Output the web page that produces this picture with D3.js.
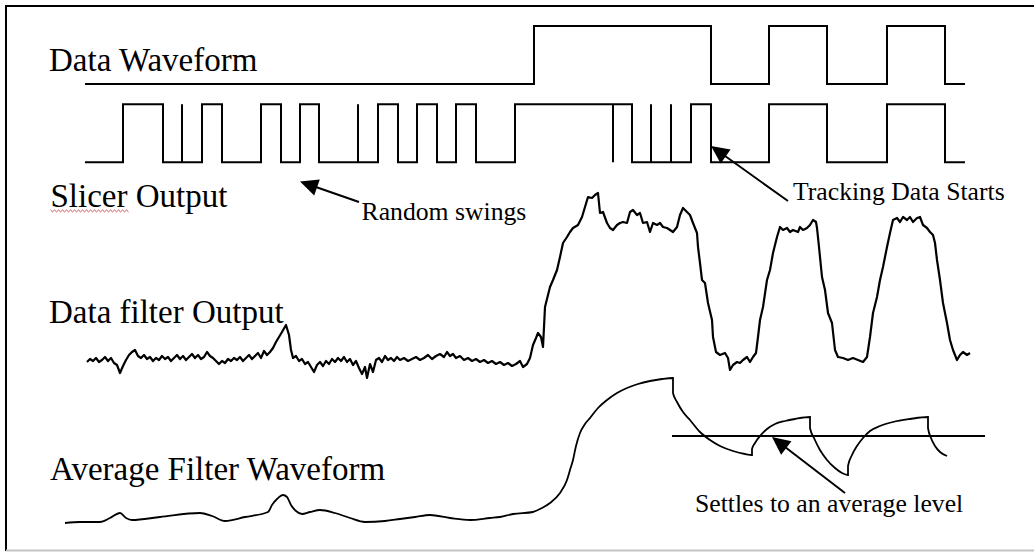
<!DOCTYPE html>
<html><head><meta charset="utf-8">
<script src="https://cdn.jsdelivr.net/npm/d3@7"></script>
<style>html,body{margin:0;padding:0;background:#fff;} svg{display:block}</style>
</head><body>
<svg id="chart" width="1034" height="552"></svg>
<script>
// ---------------- DATA (time in µs, levels in arbitrary units) ----------------
const trackLabels = ["Data Waveform", "Slicer Output", "Data filter Output", "Average Filter Waveform"];
const annotationTexts = ["Random swings", "Tracking Data Starts", "Settles to an average level"];

// Data waveform: edge times and the level after each edge
const dataTimes  = [2, 46.9, 64.6, 70.4, 76.2, 82.2, 88, 90];
const dataLevels = [0, 1,    0,    1,    0,    1,    0,  0];

// Slicer output: edge times and level after each edge (zero-width entries are glitches)
const slicerTimes  = [2, 5.8, 9.8, 11.7, 11.7, 13.7, 15.7, 19.6, 21.6, 23.5, 25.4, 29.3, 29.3, 31.3, 33.3, 35.2, 37.2, 39.1, 41.1, 45.0, 54.8, 54.8, 56.7, 58.6, 58.6, 60.6, 60.6, 62.6, 64.6, 70.4, 76.2, 82.2, 88, 90];
const slicerLevels = [0, 1,   0,   1,    0,    1,    0,    1,    0,    1,    0,    1,    0,    1,    0,    1,    0,    1,    0,    1,    0,    1,    0,    1,    0,    1,    0,    1,    0,    1,    0,    1,    0,  0];

// Data filter output samples [time, mV]
const filterSamples = [
 [2.2,8],[2.5,11],[2.8,9],[3.1,12],[3.4,8],[3.7,10],[4.0,13],[4.3,9],[4.6,12],[4.9,7],[5.2,5],[5.5,-3],[5.8,4],[6.1,10],[6.4,15],[6.7,18],[7.0,20],[7.3,14],[7.6,12],[7.9,15],[8.2,11],[8.5,13],[8.8,9],[9.1,12],[9.4,10],[9.7,14],[10.0,11],[10.3,13],[10.6,9],[10.9,12],[11.2,15],[11.5,11],[11.8,14],[12.1,10],[12.4,13],[12.7,16],[13.0,12],[13.3,15],[13.6,11],[13.9,13],[14.2,18],[14.5,14],[14.8,12],[15.1,9],[15.4,6],[15.7,9],[16.0,7],[16.3,11],[16.6,9],[16.9,12],[17.2,10],[17.5,13],[17.8,9],[18.1,12],[18.4,15],[18.7,11],[19.0,14],[19.3,17],[19.6,12],[19.9,19],[20.2,15],[20.5,18],[20.8,22],[21.1,28],[21.4,33],[21.7,38],[22.1,45],[22.4,35],[22.6,20],[22.8,12],[23.1,14],[23.4,9],[23.7,11],[24.0,6],[24.3,8],[24.6,3],[24.9,-2],[25.2,5],[25.5,8],[25.8,4],[26.1,9],[26.4,6],[26.7,11],[27.0,8],[27.3,12],[27.6,9],[27.9,13],[28.2,8],[28.5,11],[28.8,5],[29.1,9],[29.4,2],[29.7,-4],[30.0,3],[30.2,-8],[30.5,6],[30.8,-2],[31.1,10],[31.4,12],[31.7,8],[32.0,14],[32.3,10],[32.6,12],[32.9,9],[33.2,13],[33.5,10],[33.9,12],[34.3,9],[34.7,11],[35.1,13],[35.5,10],[35.9,12],[36.3,15],[36.7,11],[37.1,14],[37.5,16],[37.9,13],[38.2,18],[38.5,14],[38.8,16],[39.1,12],[39.5,14],[39.9,10],[40.3,12],[40.7,9],[41.1,11],[41.5,8],[41.9,10],[42.3,7],[42.7,9],[43.1,6],[43.5,8],[43.9,5],[44.3,7],[44.7,4],[45.1,6],[45.5,9],[45.8,3],[46.2,6],[46.5,12],[46.8,25],[47.1,32],[47.3,37],[47.6,33],[47.8,23],[48.0,63],[48.5,83],[48.8,90],[49.2,100],[49.5,113],[49.8,127],[50.2,133],[50.5,138],[50.8,142],[51.3,145],[51.7,153],[52.0,163],[52.3,173],[52.7,172],[53.0,175],[53.3,177],[53.5,157],[53.8,158],[54.2,147],[54.5,142],[54.8,140],[55.2,145],[55.5,147],[55.8,148],[56.2,147],[56.5,158],[56.8,160],[57.2,155],[57.5,157],[57.8,147],[58.2,148],[58.5,138],[58.8,147],[59.2,145],[59.5,147],[59.8,143],[60.2,142],[60.5,140],[60.8,138],[61.2,143],[61.5,155],[61.8,162],[62.2,158],[62.5,155],[62.8,147],[63.2,137],[63.3,123],[63.5,107],[63.7,90],[64.0,87],[64.3,67],[64.7,50],[64.8,33],[65.1,18],[65.5,15],[66.0,17],[66.3,12],[66.5,0],[66.8,5],[67.2,8],[67.5,7],[67.8,10],[68.2,13],[68.5,8],[68.8,13],[69.1,17],[69.3,33],[69.5,50],[69.8,63],[70.2,90],[70.5,100],[70.8,117],[71.2,133],[71.5,143],[71.8,140],[72.2,142],[72.5,138],[72.8,140],[73.3,138],[73.5,143],[73.8,140],[74.2,142],[74.5,145],[74.8,150],[75.1,148],[75.2,142],[75.4,123],[75.7,93],[76.0,80],[76.3,57],[76.7,47],[77.0,20],[77.3,13],[77.8,12],[78.3,10],[78.8,12],[79.3,10],[79.8,8],[80.2,13],[80.5,33],[80.8,57],[81.2,73],[81.5,90],[81.8,103],[82.2,123],[82.5,137],[82.8,150],[83.2,152],[83.5,148],[83.8,153],[84.2,150],[84.5,153],[84.8,148],[85.2,152],[85.5,153],[85.8,145],[86.2,142],[86.5,138],[86.8,135],[87.0,127],[87.2,110],[87.5,90],[87.8,67],[88.2,47],[88.5,30],[88.8,20],[89.2,10],[89.5,15],[89.8,18],[90.2,15],[90.5,17]
];

// Average filter waveform samples [time, mV]
const averageSamples = [
 [0,7],[1.5,8],[3.5,8],[4.5,12],[5.5,17],[6.1,12],[6.7,10],[9.5,13],[13.5,17],[14.7,14],[16,9],[18,13],[20.3,18],[20.7,25],[21.2,31],[21.8,35],[22.2,33],[22.6,25],[23.1,19],[23.7,16],[24.5,18],[25.5,20],[27,17],[28.5,12],[30,8],[32,9],[33.5,11],[35,13],[36.5,15],[38.5,12],[40.5,10],[42.5,12],[43.5,13],[44.8,16],[46.8,18],[47.7,22],[48.5,27],[49.5,37],[50.2,50],[50.5,60],[50.8,70],[51.1,84],[51.5,97],[52,106],[52.5,112],[53.3,122],[54.2,130],[55.2,137],[56.2,142],[57.3,146],[58.5,149],[59.7,151],[60.8,152],[60.8,137],[61.2,128],[61.8,118],[62.5,110],[63.5,98],[64.5,90],[65.5,84],[66.8,79],[68,76],[68.7,75],[68.7,81],[69,87],[69.5,94],[70.2,101],[71,106],[72,109],[73,111],[74.5,113],[74.5,102],[74.9,92],[75.5,80],[76.2,70],[77,62],[77.7,57],[78.3,55],[78.3,64],[78.7,75],[79.2,84],[79.8,92],[80.5,99],[81.5,104],[82.8,108],[84.5,111],[86.3,113],[86.3,102],[86.6,92],[87,84],[87.5,78],[88.2,74]
];
const averageLevel = 94;            // settled average (mV)
const averageLineSpan = [60.7, 92]; // time span of the reference line

// ---------------- LAYOUT ----------------
const W = 1034, H = 552;
const svg = d3.select("#chart");
const FONT = "'Liberation Serif','Times New Roman',Times,serif";

const x = d3.scaleLinear().domain([0, 94]).range([65, 1005]);
const yData   = d3.scaleLinear().domain([0, 1]).range([84, 26]);
const ySlicer = d3.scaleLinear().domain([0, 1]).range([162.3, 104.3]);
const yFilter = d3.scaleLinear().domain([0, 200]).range([370, 170]);
const yAvg    = d3.scaleLinear().domain([0, 200]).range([530, 330]);

// frame
svg.append("line").attr("x1",6).attr("y1",6).attr("x2",W).attr("y2",6).attr("stroke","#000").attr("stroke-width",2);
svg.append("line").attr("x1",6).attr("y1",5).attr("x2",6).attr("y2",551).attr("stroke","#000").attr("stroke-width",2);
svg.append("line").attr("x1",6).attr("y1",550.5).attr("x2",W).attr("y2",550.5).attr("stroke","#c4c4c4").attr("stroke-width",2);

const stepLine = (ys) => d3.line().x(d => x(d[0])).y(d => ys(d[1])).curve(d3.curveStepAfter);
const plainLine = (ys) => d3.line().x(d => x(d[0])).y(d => ys(d[1]));

svg.append("path").datum(d3.zip(dataTimes, dataLevels))
  .attr("d", stepLine(yData)).attr("fill","none").attr("stroke","#000").attr("stroke-width",2).attr("stroke-linejoin","miter");
svg.append("path").datum(d3.zip(slicerTimes, slicerLevels))
  .attr("d", stepLine(ySlicer)).attr("fill","none").attr("stroke","#000").attr("stroke-width",2).attr("stroke-linejoin","miter");
svg.append("path").datum(filterSamples)
  .attr("d", plainLine(yFilter)).attr("fill","none").attr("stroke","#000").attr("stroke-width",2.2).attr("stroke-linejoin","round");
svg.append("path").datum(averageSamples)
  .attr("d", plainLine(yAvg).curve(d3.curveMonotoneX)).attr("fill","none").attr("stroke","#000").attr("stroke-width",1.8);
svg.append("line")
  .attr("x1", x(averageLineSpan[0])).attr("x2", x(averageLineSpan[1]))
  .attr("y1", yAvg(averageLevel)).attr("y2", yAvg(averageLevel))
  .attr("stroke","#000").attr("stroke-width",2);

// labels
const labelPos = [[49,70.5],[50.5,206.5],[49,323],[50,479.5]];
trackLabels.forEach((t,i) => {
  svg.append("text").attr("x",labelPos[i][0]).attr("y",labelPos[i][1])
    .attr("font-family",FONT).attr("font-size",33).attr("fill","#000").text(t);
});
const annPos = [[361.5,220],[793,200],[695,511.5]];
annotationTexts.forEach((t,i) => {
  svg.append("text").attr("x",annPos[i][0]).attr("y",annPos[i][1])
    .attr("font-family",FONT).attr("font-size",25.7).attr("fill","#000").text(t);
});

// spell-check squiggle under "Slicer"
(function(){
  const tmp = svg.append("text").attr("font-family",FONT).attr("font-size",33).text("Slicer");
  const w = tmp.node().getComputedTextLength(); tmp.remove();
  const x0 = labelPos[1][0], y0 = labelPos[1][1] + 3.5;
  let d = `M${x0},${y0}`;
  for (let k = 0, xx = x0; xx < x0 + w; k++) { xx += 2; d += ` L${xx},${y0 + (k % 2 ? 0 : 1.8)}`; }
  svg.append("path").attr("d", d).attr("fill","none").attr("stroke","#d04040").attr("stroke-width",0.9);
})();

// arrows
function arrow(tail, tip, len = 18, half = 8.5) {
  const dx = tip[0]-tail[0], dy = tip[1]-tail[1], L = Math.hypot(dx,dy);
  const ux = dx/L, uy = dy/L;
  const bx = tip[0]-ux*len, by = tip[1]-uy*len;
  svg.append("line").attr("x1",tail[0]).attr("y1",tail[1]).attr("x2",bx+ux*2).attr("y2",by+uy*2)
    .attr("stroke","#000").attr("stroke-width",2);
  svg.append("path").attr("d",`M${tip[0]},${tip[1]} L${bx-uy*half},${by+ux*half} L${bx+uy*half},${by-ux*half} Z`).attr("fill","#000");
}
arrow([359,202],[300,181.5]);
arrow([788,201],[711,146]);
arrow([845,493],[772,437]);
</script>
</body></html>
